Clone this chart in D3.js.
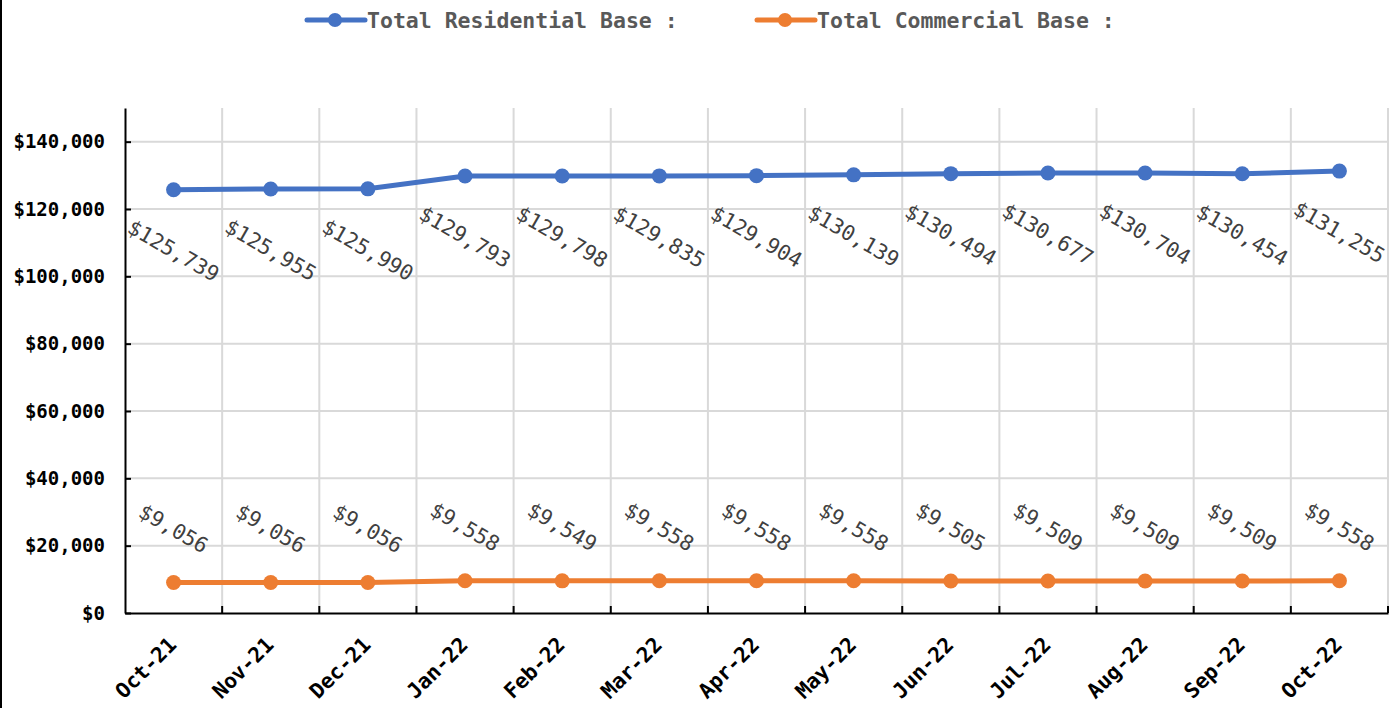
<!DOCTYPE html>
<html>
<head>
<meta charset="utf-8">
<script src="https://cdn.jsdelivr.net/npm/d3@7"></script>
<style>
  body { margin: 0; background: #fff; }
  svg { display: block; font-family: "DejaVu Sans Mono", "Liberation Mono", monospace; }
  .grid line { stroke: #d9d9d9; stroke-width: 2; }
  .axis path, .axis line { stroke: #000; stroke-width: 2; }
  .axis text { font-family: "DejaVu Sans Mono", monospace; font-weight: bold; fill: #000; font-size: 19px; }
  .lbl { font-size: 21px; fill: #404040; }
  .legend text { font-size: 21.5px; font-weight: bold; fill: #595959; }
</style>
</head>
<body>
<svg width="1398" height="708"></svg>
<script>
const months = ["Oct-21","Nov-21","Dec-21","Jan-22","Feb-22","Mar-22","Apr-22","May-22","Jun-22","Jul-22","Aug-22","Sep-22","Oct-22"]
const residential = [125739,125955,125990,129793,129798,129835,129904,130139,130494,130677,130704,130454,131255]
const commercial = [9056,9056,9056,9558,9549,9558,9558,9558,9505,9509,9509,9509,9558]
const yTicks = [0,20000,40000,60000,80000,100000,120000,140000]

const svg = d3.select("svg")
const plotL = 125, plotR = 1388, plotT = 108, plotB = 613

// thin frame line on the left edge
svg.append("line").attr("x1", 1).attr("x2", 1).attr("y1", 0).attr("y2", 708)
  .attr("stroke", "#000").attr("stroke-width", 2)

const x = d3.scaleBand().domain(months).range([plotL, plotR])
const y = d3.scaleLinear().domain([0, 150000]).range([plotB, plotT])
const fmt = d3.format("$,")

// gridlines
const grid = svg.append("g").attr("class", "grid")
grid.selectAll(".h").data(yTicks.slice(1)).enter().append("line")
  .attr("x1", plotL).attr("x2", plotR)
  .attr("y1", d => y(d)).attr("y2", d => y(d))
grid.selectAll(".v").data(months).enter().append("line")
  .attr("x1", d => x(d) + x.bandwidth()).attr("x2", d => x(d) + x.bandwidth())
  .attr("y1", plotT).attr("y2", plotB)

// axes
const yAxis = svg.append("g").attr("class", "axis")
  .attr("transform", "translate(" + plotL + ",0)")
  .call(d3.axisLeft(y).tickValues(yTicks).tickFormat(fmt).tickSizeInner(-6).tickSizeOuter(0).tickPadding(20))

const xAxis = svg.append("g").attr("class", "axis")
  .attr("transform", "translate(0," + plotB + ")")
  .call(d3.axisBottom(x).tickSize(0))
xAxis.selectAll(".tick text")
  .attr("text-anchor", "end")
  .attr("dy", 0)
  .attr("transform", "translate(" + 2 + ",31) rotate(-45)")
  .style("font-size", "21px")
xAxis.selectAll(".bnd").data(months).enter().append("line")
  .attr("x1", d => x(d) + x.bandwidth()).attr("x2", d => x(d) + x.bandwidth())
  .attr("y1", 0).attr("y2", -7)
  .attr("stroke", "#000").attr("stroke-width", 2)

const cx = d => x(d) + x.bandwidth() / 2

function drawSeries(vals, color, labelOffset) {
  const line = d3.line().x((d, i) => cx(months[i])).y(d => y(d))
  svg.append("path").datum(vals)
    .attr("d", line).attr("fill", "none")
    .attr("stroke", color).attr("stroke-width", 5)
  svg.append("g").selectAll("circle").data(vals).enter().append("circle")
    .attr("cx", (d, i) => cx(months[i])).attr("cy", d => y(d))
    .attr("r", 7.5).attr("fill", color)
  svg.append("g").selectAll("text").data(vals).enter().append("text")
    .attr("class", "lbl")
    .attr("text-anchor", "middle")
    .attr("dy", "0.35em")
    .attr("transform", (d, i) => "translate(" + cx(months[i]) + "," + (y(d) + labelOffset) + ") rotate(30)")
    .text(d => fmt(d))
}

drawSeries(residential, "#4472C4", 61)
drawSeries(commercial, "#ED7D31", -54)

// legend
const legendItems = [
  { name: "Total Residential Base :", color: "#4472C4", x: 307 },
  { name: "Total Commercial Base :", color: "#ED7D31", x: 757 }
]
const legend = svg.append("g").attr("class", "legend")
legendItems.forEach(it => {
  legend.append("line").attr("x1", it.x).attr("x2", it.x + 58)
    .attr("y1", 20).attr("y2", 20)
    .attr("stroke", it.color).attr("stroke-width", 5).attr("stroke-linecap", "round")
  legend.append("circle").attr("cx", it.x + 28).attr("cy", 20).attr("r", 7).attr("fill", it.color)
  legend.append("text").attr("x", it.x + 60).attr("y", 20).attr("dy", "0.35em").text(it.name)
})
</script>
</body>
</html>
